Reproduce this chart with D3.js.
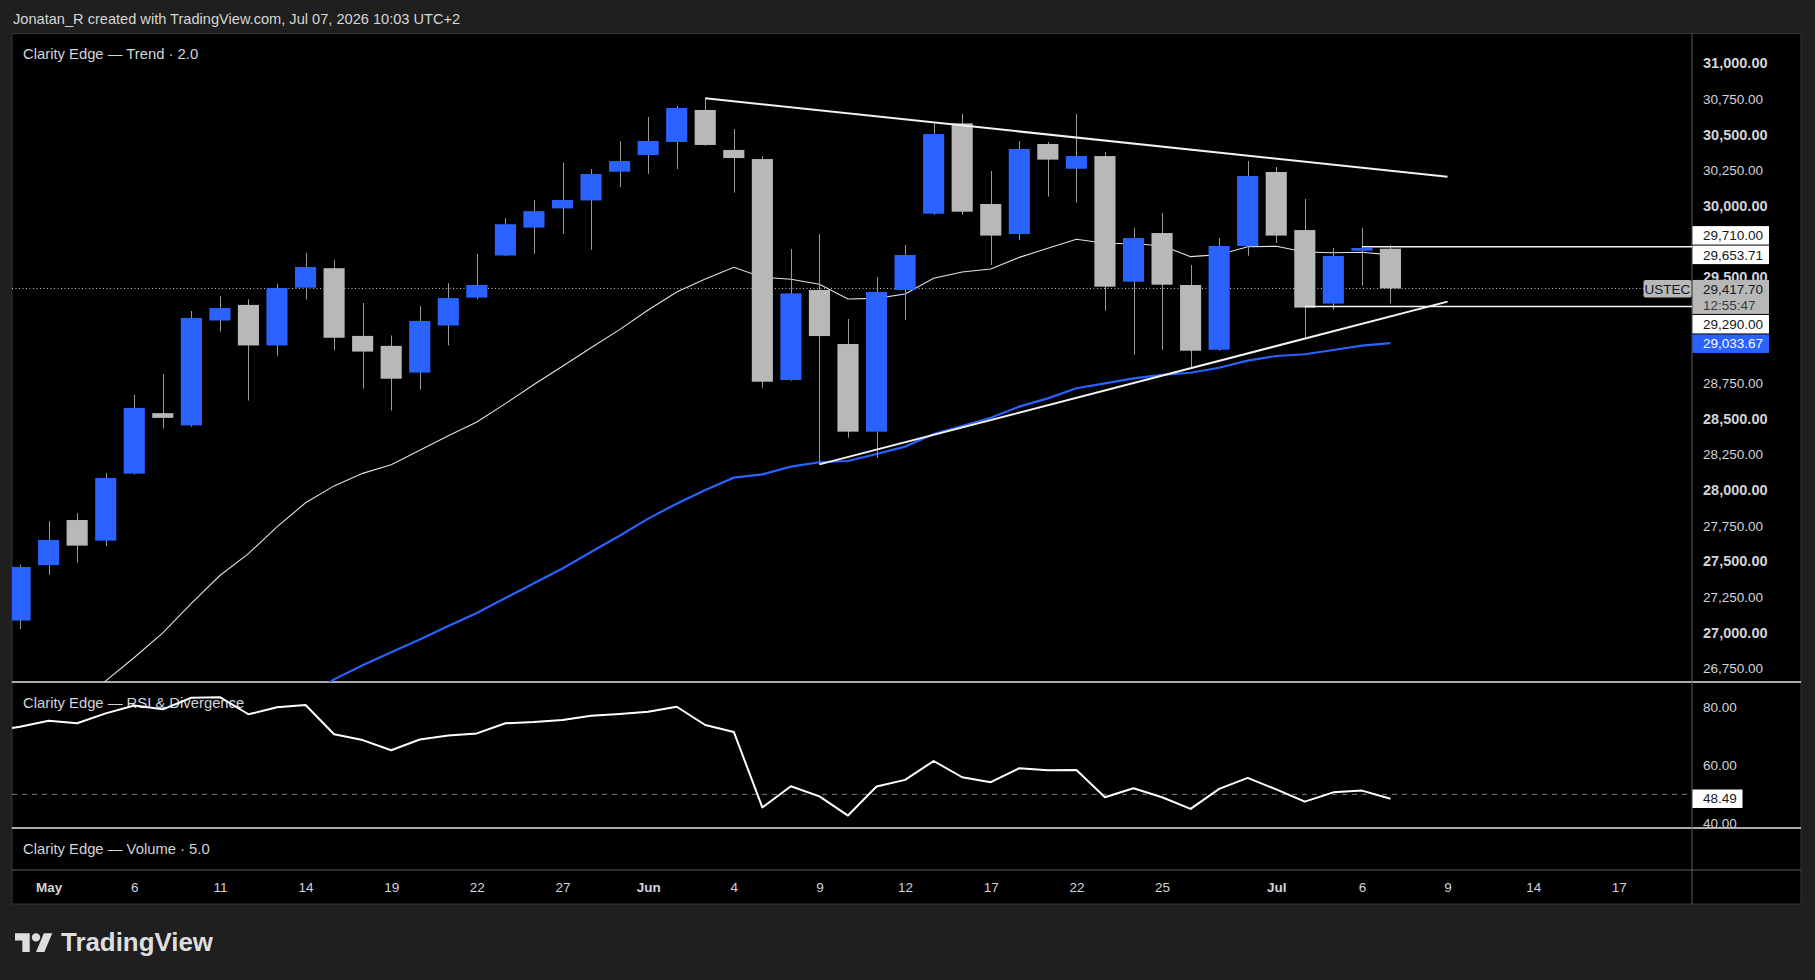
<!DOCTYPE html>
<html>
<head>
<meta charset="utf-8">
<script src="https://cdn.jsdelivr.net/npm/d3@7"></script>
<style>
  html, body { margin: 0; padding: 0; background: #1f1f1f; }
  svg { display: block; }
  text { font-family: "Liberation Sans", Arial, sans-serif; }
</style>
</head>
<body>
<svg id="chart" width="1815" height="980"></svg>
<script>
// trading days on the time axis (incl. future empty slots)
var days = [
  "2026-04-29", "2026-04-30", "2026-05-01", "2026-05-04", "2026-05-05", "2026-05-06", "2026-05-07", "2026-05-08",
  "2026-05-11", "2026-05-12", "2026-05-13", "2026-05-14", "2026-05-15", "2026-05-18", "2026-05-19", "2026-05-20",
  "2026-05-21", "2026-05-22", "2026-05-25", "2026-05-26", "2026-05-27", "2026-05-28", "2026-05-29", "2026-06-01",
  "2026-06-02", "2026-06-03", "2026-06-04", "2026-06-05", "2026-06-08", "2026-06-09", "2026-06-10", "2026-06-11",
  "2026-06-12", "2026-06-15", "2026-06-16", "2026-06-17", "2026-06-18", "2026-06-19", "2026-06-22", "2026-06-23",
  "2026-06-24", "2026-06-25", "2026-06-26", "2026-06-29", "2026-06-30", "2026-07-01", "2026-07-02", "2026-07-03",
  "2026-07-06", "2026-07-07", "2026-07-08", "2026-07-09", "2026-07-10", "2026-07-13", "2026-07-14", "2026-07-15",
  "2026-07-16", "2026-07-17"
];

var tickDays = ["2026-05-01", "2026-05-06", "2026-05-11", "2026-05-14", "2026-05-19", "2026-05-22", "2026-05-27",
  "2026-06-01", "2026-06-04", "2026-06-09", "2026-06-12", "2026-06-17", "2026-06-22", "2026-06-25",
  "2026-07-01", "2026-07-06", "2026-07-09", "2026-07-14", "2026-07-17"];
var tickLabels = ["May", "6", "11", "14", "19", "22", "27", "Jun", "4", "9", "12", "17", "22", "25", "Jul", "6", "9", "14", "17"];

// daily candles, first one on Apr 30
var candleStart = "2026-04-30";
var open = [27083, 27473, 27790, 27645, 28116, 28541, 28455, 29192, 29302, 29017, 29423, 29560, 29084, 29014,
  28826, 29157, 29353, 29649, 29845, 29980, 30036, 30238, 30355, 30447, 30672, 30391, 30327, 28774, 29407, 29027,
  28411, 29407, 29943, 30578, 30011, 29800, 30433, 30259, 30348, 29465, 29807, 29442, 28987, 29716, 30236, 29828,
  29311, 29683, 29697];
var high = [27478, 27782, 27839, 28121, 28670, 28815, 29259, 29364, 29342, 29450, 29668, 29617, 29315, 29087,
  29294, 29455, 29660, 29912, 30039, 30300, 30257, 30453, 30623, 30700, 30754, 30538, 30348, 29695, 29800, 29203,
  29498, 29723, 30578, 30644, 30243, 30454, 30447, 30644, 30377, 29843, 29948, 29582, 29772, 30313, 30271, 30046,
  29702, 29843, 29723];
var low = [27024, 27406, 27489, 27607, 28110, 28433, 28446, 29114, 28630, 28944, 29340, 28982, 28713, 28560,
  28707, 29017, 29342, 29645, 29662, 29802, 29689, 30130, 30222, 30257, 30421, 30091, 28720, 28769, 28181, 28369,
  28228, 29196, 29936, 29934, 29582, 29758, 30063, 30020, 29262, 28952, 28987, 28863, 28980, 29648, 29737, 29074,
  29269, 29437, 29311];
var close = [27460, 27650, 27610, 28086, 28578, 28508, 29210, 29280, 29017, 29420, 29568, 29071, 28974, 28783,
  29189, 29350, 29442, 29869, 29961, 30039, 30222, 30313, 30454, 30686, 30426, 30334, 28762, 29383, 29083, 28411,
  29393, 29653, 30503, 29957, 29789, 30398, 30323, 30348, 29430, 29772, 29444, 28980, 29716, 30208, 29789, 29283,
  29646, 29702, 29417.70];

// trend moving averages
var fastMaStart = "2026-05-04";
var fastMa = [26480, 26660, 26824, 26997, 27204, 27400, 27554, 27742, 27911, 28030, 28118, 28178, 28280, 28382,
  28479, 28608, 28742, 28871, 29001, 29128, 29266, 29393, 29484, 29566, 29496, 29482, 29447, 29343, 29348, 29379,
  29489, 29533, 29554, 29636, 29700, 29763, 29735, 29732, 29718, 29641, 29655, 29711, 29714, 29674, 29669, 29672,
  29653.71];
var slowMaStart = "2026-05-14";
var slowMa = [26540, 26670, 26770, 26860, 26950, 27045, 27137, 27242, 27346, 27449, 27565, 27680, 27800, 27905,
  28001, 28088, 28111, 28165, 28196, 28205, 28254, 28306, 28395, 28451, 28509, 28587, 28645, 28716, 28751, 28786,
  28810, 28825, 28860, 28910, 28943, 28955, 28985, 29016, 29033.67];

// RSI
var rsiStart = "2026-04-29";
var rsi = [71.8, 73.3, 75.4, 74.5, 77.9, 80.6, 79.3, 83.3, 83.5, 77.6, 80, 80.8, 70.7, 68.7, 65.2, 68.9, 70.3, 71,
  74.5, 74.9, 75.6, 77.1, 77.7, 78.5, 80.2, 73.9, 71.5, 45.5, 52.8, 49.3, 42.7, 52.7, 55, 61.5, 55.9, 54.2, 59,
  58.3, 58.4, 49, 52.1, 49, 45, 51.9, 55.7, 51.7, 47.5, 50.7, 51.3, 48.49];
var rsiMid = 50;

var priceTicks = [26750, 27000, 27250, 27500, 27750, 28000, 28250, 28500, 28750, 29000, 29250, 29500, 29750,
  30000, 30250, 30500, 30750, 31000];
var rsiTicks = [40, 60, 80];

// drawings
var resistance = [["2026-06-03", 30754], ["2026-07-09", 30203]];
var support = [["2026-06-09", 28181], ["2026-07-09", 29325]];
var levelHigh = ["2026-07-06", 29710];
var levelLow = ["2026-07-02", 29290];

var symbol = "USTEC";
var countdown = "12:55:47";
var headerText = "Jonatan_R created with TradingView.com, Jul 07, 2026 10:03 UTC+2";
var trendTitle = "Clarity Edge \u2014 Trend \u00b7 2.0";
var rsiTitle = "Clarity Edge \u2014 RSI & Divergence";
var volTitle = "Clarity Edge \u2014 Volume \u00b7 5.0";

document.addEventListener("DOMContentLoaded", function () {

  init();

  function init() {
    visualize();
  }

  function visualize() {
    var svg = d3.select("#chart");

    var left = 12, right = 1801, plotRight = 1692;
    var top = 34, priceBottom = 682, rsiBottom = 828, volBottom = 870, bottom = 904;
    var blue = "#2962ff", grey = "#b8b8b8", textCol = "#d1d4dc";

    var x = d3.scaleLinear()
      .domain([days.indexOf("2026-05-01"), days.indexOf("2026-07-07")])
      .range([48.6, 48.6 + 47 * 28.55]);
    var y = d3.scaleLinear().domain([26750, 31000]).range([668, 63.3]);
    var ry = d3.scaleLinear().domain([40, 80]).range([823.4, 707.3]);
    var step = x(1) - x(0);

    function xd(day) { return x(days.indexOf(day)); }
    function series(start, values) {
      var s = days.indexOf(start);
      return values.map(function (v, i) { return {i: s + i, v: v}; });
    }

    // header
    svg.append("text").attr("x", 13).attr("y", 24).attr("fill", "#d6d6d6")
      .style("font-size", "14.6px").text(headerText);

    // chart frame
    svg.append("rect").attr("x", left).attr("y", top - 0.5).attr("width", right - left).attr("height", bottom - top + 0.5)
      .attr("fill", "#000").attr("stroke", "#363636");

    var defs = svg.append("defs");
    defs.append("clipPath").attr("id", "priceClip").append("rect")
      .attr("x", left).attr("y", top).attr("width", plotRight - left).attr("height", priceBottom - top);
    defs.append("clipPath").attr("id", "rsiClip").append("rect")
      .attr("x", left).attr("y", priceBottom).attr("width", plotRight - left).attr("height", rsiBottom - priceBottom);

    // separators
    svg.append("line").attr("x1", left).attr("x2", right).attr("y1", priceBottom).attr("y2", priceBottom)
      .attr("stroke", "#e6e6e6").attr("stroke-width", 1.5);
    svg.append("line").attr("x1", left).attr("x2", right).attr("y1", rsiBottom).attr("y2", rsiBottom)
      .attr("stroke", "#e6e6e6").attr("stroke-width", 1.5);
    svg.append("line").attr("x1", left).attr("x2", right).attr("y1", volBottom).attr("y2", volBottom)
      .attr("stroke", "#5a5a5a");
    svg.append("line").attr("x1", plotRight).attr("x2", plotRight).attr("y1", top).attr("y2", bottom)
      .attr("stroke", "#5a5a5a");

    // price pane
    var price = svg.append("g").attr("clip-path", "url(#priceClip)");
    var last = close[close.length - 1];

    price.append("line")
      .attr("x1", left).attr("x2", plotRight)
      .attr("y1", y(last)).attr("y2", y(last))
      .attr("stroke", "#cfcfcf").attr("stroke-dasharray", "1,2.5");

    var maLine = d3.line().x(function (d) { return x(d.i); }).y(function (d) { return y(d.v); });
    price.append("path").datum(series(slowMaStart, slowMa)).attr("d", maLine)
      .attr("fill", "none").attr("stroke", blue).attr("stroke-width", 2.2);
    price.append("path").datum(series(fastMaStart, fastMa)).attr("d", maLine)
      .attr("fill", "none").attr("stroke", "#e2e2e2").attr("stroke-width", 1.1);

    var s0 = days.indexOf(candleStart);
    var candles = open.map(function (o, k) {
      return {i: s0 + k, o: o, h: high[k], l: low[k], c: close[k]};
    });
    var bodyW = step * 0.74;
    var cg = price.selectAll("g.candle").data(candles).enter().append("g").attr("class", "candle");
    cg.append("line")
      .attr("x1", function (d) { return Math.round(x(d.i)) + 0.5; })
      .attr("x2", function (d) { return Math.round(x(d.i)) + 0.5; })
      .attr("y1", function (d) { return y(d.h); })
      .attr("y2", function (d) { return y(d.l); })
      .attr("stroke", "#9a9a9a").attr("stroke-width", 1);
    cg.append("rect")
      .attr("x", function (d) { return x(d.i) - bodyW / 2; })
      .attr("width", bodyW)
      .attr("y", function (d) { return y(Math.max(d.o, d.c)); })
      .attr("height", function (d) { return Math.max(1.5, Math.abs(y(d.o) - y(d.c))); })
      .attr("fill", function (d) { return d.c >= d.o ? blue : grey; });

    // drawings
    [resistance, support].forEach(function (seg) {
      price.append("line")
        .attr("x1", xd(seg[0][0])).attr("y1", y(seg[0][1]))
        .attr("x2", xd(seg[1][0])).attr("y2", y(seg[1][1]))
        .attr("stroke", "#f2f2f2").attr("stroke-width", 2);
    });
    [levelHigh, levelLow].forEach(function (lv) {
      price.append("line")
        .attr("x1", xd(lv[0])).attr("x2", plotRight)
        .attr("y1", y(lv[1])).attr("y2", y(lv[1]))
        .attr("stroke", "#f2f2f2").attr("stroke-width", 1.5);
    });

    // price labels on the axis (laid out first so hidden ticks can be dropped)
    var fmt = d3.format(",.2f");
    var labels = [
      {v: levelHigh[1], bg: "#ffffff", fg: "#131722", h: 18.5},
      {v: fastMa[fastMa.length - 1], bg: "#ffffff", fg: "#131722", h: 18.5},
      {v: last, bg: grey, fg: "#131722", h: 34, pinned: true},
      {v: levelLow[1], bg: "#ffffff", fg: "#131722", h: 18.5},
      {v: slowMa[slowMa.length - 1], bg: blue, fg: "#ffffff", h: 18.5}
    ];
    labels.forEach(function (d) { d.top = d.pinned ? y(d.v) - 8.5 : y(d.v) - d.h / 2; });
    labels.sort(function (a, b) { return a.top - b.top; });
    var p = labels.findIndex(function (d) { return d.pinned; });
    for (var k = p + 1; k < labels.length; k++) {
      var prevB = labels[k - 1].top + labels[k - 1].h + 1;
      if (labels[k].top < prevB) labels[k].top = prevB;
    }
    for (k = p - 1; k >= 0; k--) {
      var nextT = labels[k + 1].top - 1;
      if (labels[k].top + labels[k].h > nextT) labels[k].top = nextT - labels[k].h;
    }

    // price axis
    var yAxis = d3.axisRight(y).tickValues(priceTicks).tickSize(0).tickPadding(11)
      .tickFormat(fmt);
    var ya = svg.append("g").attr("transform", "translate(" + plotRight + ",0)").call(yAxis);
    ya.select(".domain").remove();
    ya.selectAll(".tick").filter(function (d) {
      var c = y(d);
      return labels.some(function (b) { return c > b.top && c < b.top + b.h; });
    }).remove();
    ya.selectAll("text")
      .attr("fill", textCol)
      .style("font-family", "'Liberation Sans', Arial, sans-serif")
      .style("font-size", function (d) { return d % 500 === 0 ? "14.5px" : "13.5px"; })
      .style("font-weight", function (d) { return d % 500 === 0 ? "bold" : "normal"; });

    var lg = svg.selectAll("g.plabel").data(labels).enter().append("g").attr("class", "plabel");
    lg.append("rect").attr("x", plotRight + 0.5).attr("width", 76.5)
      .attr("y", function (d) { return d.top; })
      .attr("height", function (d) { return d.h; })
      .attr("fill", function (d) { return d.bg; });
    lg.append("text").attr("x", 1703)
      .attr("y", function (d) { return d.top + 9.25; })
      .attr("dy", "0.35em")
      .attr("fill", function (d) { return d.fg; })
      .style("font-size", "13.5px")
      .text(function (d) { return fmt(d.v); });
    lg.filter(function (d) { return d.pinned; }).append("text").attr("x", 1703)
      .attr("y", function (d) { return d.top + 25.5; })
      .attr("dy", "0.35em").attr("fill", "#3a3a3a")
      .style("font-size", "13.5px")
      .text(countdown);

    // symbol tag
    svg.append("rect").attr("x", 1643.5).attr("y", y(last) - 8.5).attr("width", 48).attr("height", 17.5)
      .attr("rx", 2).attr("fill", grey);
    svg.append("text").attr("x", 1667.5).attr("y", y(last) + 0.5).attr("dy", "0.35em")
      .attr("text-anchor", "middle").attr("fill", "#131722").style("font-size", "13.5px").text(symbol);

    // pane titles
    svg.append("text").attr("x", 23).attr("y", 54).attr("dy", "0.35em").attr("fill", textCol)
      .style("font-size", "14.8px").text(trendTitle);
    svg.append("text").attr("x", 23).attr("y", 703).attr("dy", "0.35em").attr("fill", textCol)
      .style("font-size", "14.8px").text(rsiTitle);
    svg.append("text").attr("x", 23).attr("y", 848.5).attr("dy", "0.35em").attr("fill", textCol)
      .style("font-size", "14.8px").text(volTitle);

    // RSI pane
    var rg = svg.append("g").attr("clip-path", "url(#rsiClip)");
    rg.append("line").attr("x1", left).attr("x2", plotRight)
      .attr("y1", ry(rsiMid)).attr("y2", ry(rsiMid))
      .attr("stroke", "#7a7a7a").attr("stroke-dasharray", "5,5");
    var rsiLine = d3.line().x(function (d) { return x(d.i); }).y(function (d) { return ry(d.v); });
    rg.append("path").datum(series(rsiStart, rsi)).attr("d", rsiLine)
      .attr("fill", "none").attr("stroke", "#ffffff").attr("stroke-width", 2)
      .attr("stroke-linejoin", "round");

    var ra = svg.append("g").attr("transform", "translate(" + plotRight + ",0)")
      .call(d3.axisRight(ry).tickValues(rsiTicks).tickSize(0).tickPadding(11).tickFormat(d3.format(".2f")));
    ra.select(".domain").remove();
    ra.selectAll("text").attr("fill", textCol).style("font-size", "13.5px")
      .style("font-family", "'Liberation Sans', Arial, sans-serif");

    var lastRsi = rsi[rsi.length - 1];
    svg.append("rect").attr("x", plotRight + 0.5).attr("y", ry(lastRsi) - 9.25).attr("width", 50).attr("height", 18.5)
      .attr("fill", "#ffffff");
    svg.append("text").attr("x", 1703).attr("y", ry(lastRsi)).attr("dy", "0.35em")
      .attr("fill", "#131722").style("font-size", "13.5px").text(d3.format(".2f")(lastRsi));

    // time axis
    var xAxis = d3.axisBottom(x)
      .tickValues(tickDays.map(function (d) { return days.indexOf(d); }))
      .tickFormat(function (d, i) { return tickLabels[i]; })
      .tickSize(0).tickPadding(12);
    var xa = svg.append("g").attr("transform", "translate(0," + volBottom + ")").call(xAxis);
    xa.select(".domain").remove();
    xa.selectAll("text").attr("fill", textCol).style("font-size", "13.5px")
      .style("font-family", "'Liberation Sans', Arial, sans-serif")
      .style("font-weight", function (d, i) { return isNaN(+tickLabels[i]) ? "bold" : "normal"; });

    // TradingView logo
    var logo = svg.append("g").attr("transform", "translate(15,929) scale(1.05)").attr("fill", "#dedede");
    logo.append("path").attr("d", "M14 22H7V11H0V4h14v18zM28 22h-8l7.5-18h8L28 22z");
    logo.append("circle").attr("cx", 20).attr("cy", 8).attr("r", 4);
    svg.append("text").attr("x", 61).attr("y", 951).attr("fill", "#dedede")
      .attr("textLength", 152).attr("lengthAdjust", "spacingAndGlyphs")
      .style("font-size", "25px").style("font-weight", "bold").text("TradingView");
  }

});
</script>
</body>
</html>
